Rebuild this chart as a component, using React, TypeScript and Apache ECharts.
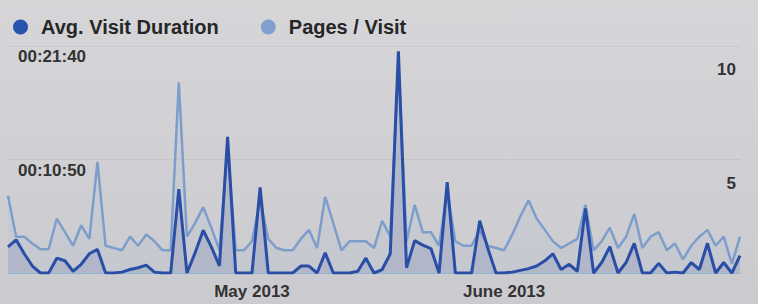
import React, { useEffect, useRef } from "react";
import * as echarts from "echarts";

// Daily data, 1 Apr 2013 – 30 Jun 2013
const startDate = { year: 2013, month: 3, day: 1 }; // month is 0-based (April)
const dayCount = 91;
const monthNames = ["January", "February", "March", "April", "May", "June", "July", "August", "September", "October", "November", "December"];

// Avg. Visit Duration, seconds
const avgVisitDuration = [
  150, 190, 110, 40, 0, 0, 85, 70, 10, 50,
  110, 135, 0, 0, 5, 20, 30, 45, 5, 0,
  0, 480, 0, 115, 245, 150, 40, 780, 0, 0,
  0, 490, 0, 0, 0, 0, 40, 40, 0, 115,
  0, 0, 0, 10, 85, 0, 20, 110, 1270, 30,
  185, 160, 140, 0, 520, 0, 0, 0, 300, 140,
  0, 0, 5, 15, 25, 40, 70, 110, 20, 50,
  10, 370, 0, 60, 150, 0, 60, 170, 0, 0,
  55, 0, 5, 0, 60, 20, 170, 0, 60, 0,
  100,
];

// Pages / Visit
const pagesPerVisit = [
  3.4, 1.6, 1.6, 1.3, 1.05, 1.05, 2.4, 1.8, 1.2, 2.1,
  1.5, 4.9, 1.2, 1.1, 1.0, 1.6, 1.2, 1.7, 1.4, 1.0,
  1.0, 8.4, 1.6, 2.2, 2.9, 2.0, 1.0, 5.5, 1.0, 1.0,
  1.4, 3.2, 1.5, 1.1, 1.0, 1.0, 1.5, 1.9, 1.1, 3.35,
  2.2, 1.0, 1.4, 1.4, 1.4, 1.1, 2.3, 1.6, 9.3, 1.4,
  3.0, 1.8, 1.8, 1.2, 3.6, 1.4, 1.2, 1.2, 1.9, 1.2,
  1.1, 1.0, 1.7, 2.5, 3.2, 2.4, 1.9, 1.4, 1.1, 1.3,
  1.5, 3.0, 1.0, 1.4, 2.0, 1.1, 1.6, 2.6, 1.1, 1.6,
  1.8, 1.0, 1.3, 0.6, 1.2, 1.6, 1.9, 1.2, 1.6, 0.4,
  1.6,
];

const leftTicks = { max: 1300, interval: 650 };
const rightTicks = { max: 10, interval: 5 };

const dates: Date[] = [];
for (let i = 0; i < dayCount; i++) {
  dates.push(new Date(startDate.year, startDate.month, startDate.day + i));
}
const categories = dates.map((d) => `${monthNames[d.getMonth()]} ${d.getDate()}, ${d.getFullYear()}`);

const pad2 = (n: number) => (n < 10 ? "0" + n : "" + n);
const toHMS = (s: number) => {
  const h = Math.floor(s / 3600);
  const m = Math.floor((s % 3600) / 60);
  const sec = Math.round(s % 60);
  return `${pad2(h)}:${pad2(m)}:${pad2(sec)}`;
};

const FONT = "'Liberation Sans', Arial, sans-serif";

export default function App() {
  const ref = useRef<HTMLDivElement>(null);
  useEffect(() => {
    if (!ref.current) return;
    const chart = echarts.init(ref.current, undefined, { renderer: "svg" });
    chart.setOption({
      animation: false,
      backgroundColor: {
        type: "linear", x: 0, y: 0, x2: 0, y2: 1,
        colorStops: [
          { offset: 0, color: "#d6d6d9" },
          { offset: 1, color: "#cbcbcf" },
        ],
      },
      textStyle: { fontFamily: FONT },
      grid: { left: 8, right: 18, top: 46, bottom: 31, containLabel: false },
      legend: {
        left: 8,
        top: 12,
        itemWidth: 15,
        itemHeight: 15,
        itemGap: 42,
        icon: "circle",
        data: ["Avg. Visit Duration", "Pages / Visit"],
        textStyle: { fontSize: 20, fontWeight: "bold", color: "#262626", fontFamily: FONT, padding: [0, 0, 0, 8] },
      },
      xAxis: {
        type: "category",
        data: categories,
        boundaryGap: false,
        axisTick: { show: false },
        axisLine: { lineStyle: { color: "#8fb6d2", width: 1 } },
        splitLine: { show: false },
        axisLabel: {
          interval: (i: number) => i > 0 && dates[i].getDate() === 1,
          formatter: (_v: string, i: number) => `${monthNames[dates[i].getMonth()]} ${dates[i].getFullYear()}`,
          color: "#333",
          fontSize: 17,
          fontWeight: "bold",
          fontFamily: FONT,
          margin: 10,
        },
      },
      yAxis: [
        {
          type: "value",
          min: 0,
          max: leftTicks.max,
          interval: leftTicks.interval,
          position: "left",
          axisLine: { show: false },
          axisTick: { show: false },
          splitLine: { lineStyle: { color: "rgba(0,0,0,0.05)" } },
          axisLabel: {
            inside: true,
            showMinLabel: false,
            formatter: (v: number) => toHMS(v),
            verticalAlign: "top",
            padding: [2, 0, 0, 0],
            margin: 10,
            color: "#333",
            fontSize: 17,
            fontWeight: "bold",
            fontFamily: FONT,
          },
        },
        {
          type: "value",
          min: 0,
          max: rightTicks.max,
          interval: rightTicks.interval,
          position: "right",
          axisLine: { show: false },
          axisTick: { show: false },
          splitLine: { show: false },
          axisLabel: {
            inside: true,
            showMinLabel: false,
            verticalAlign: "top",
            padding: [15, 0, 0, 0],
            margin: 4,
            color: "#333",
            fontSize: 17,
            fontWeight: "bold",
            fontFamily: FONT,
          },
        },
      ],
      series: [
        {
          name: "Pages / Visit",
          type: "line",
          yAxisIndex: 1,
          data: pagesPerVisit,
          showSymbol: false,
          lineStyle: { color: "#7d9dcb", width: 2.5 },
          itemStyle: { color: "#7f9fcf" },
          areaStyle: { color: "rgba(130,160,210,0.1)" },
          z: 2,
        },
        {
          name: "Avg. Visit Duration",
          type: "line",
          yAxisIndex: 0,
          data: avgVisitDuration,
          showSymbol: false,
          lineStyle: { color: "#2a4ea6", width: 3 },
          itemStyle: { color: "#2753b0" },
          areaStyle: { color: "rgba(80,100,165,0.25)" },
          z: 3,
        },
      ],
    });
    return () => chart.dispose();
  }, []);
  return <div ref={ref} style={{ position: "fixed", left: 0, top: 0, width: 758, height: 304 }} />;
}
